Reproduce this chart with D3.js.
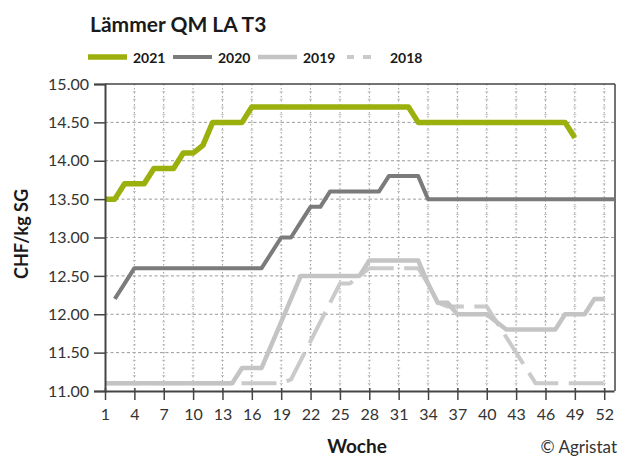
<!DOCTYPE html>
<html>
<head>
<meta charset="utf-8">
<script src="https://cdn.jsdelivr.net/npm/d3@7"></script>
<style>
  html, body { margin: 0; padding: 0; background: #fff; }
  svg { display: block; font-family: Lato, "Open Sans", sans-serif; }
</style>
</head>
<body>
<svg id="chart" width="626" height="459"></svg>
<script>
// ---- data ----
const weeks = [1,2,3,4,5,6,7,8,9,10,11,12,13,14,15,16,17,18,19,20,21,22,23,24,25,26,27,28,29,30,31,32,33,34,35,36,37,38,39,40,41,42,43,44,45,46,47,48,49,50,51,52,53];
const xTicks = [1,4,7,10,13,16,19,22,25,28,31,34,37,40,43,46,49,52];
const yTicks = [11.0,11.5,12.0,12.5,13.0,13.5,14.0,14.5,15.0];
const seriesNames = ["2021","2020","2019","2018"];

const v2021 = [13.5,13.5,13.7,13.7,13.7,13.9,13.9,13.9,14.1,14.1,14.2,14.5,14.5,14.5,14.5,14.7,14.7,14.7,14.7,14.7,14.7,14.7,14.7,14.7,14.7,14.7,14.7,14.7,14.7,14.7,14.7,14.7,14.5,14.5,14.5,14.5,14.5,14.5,14.5,14.5,14.5,14.5,14.5,14.5,14.5,14.5,14.5,14.5,14.3,null,null,null,null];
const v2020 = [null,12.2,12.4,12.6,12.6,12.6,12.6,12.6,12.6,12.6,12.6,12.6,12.6,12.6,12.6,12.6,12.6,12.8,13.0,13.0,13.2,13.4,13.4,13.6,13.6,13.6,13.6,13.6,13.6,13.8,13.8,13.8,13.8,13.5,13.5,13.5,13.5,13.5,13.5,13.5,13.5,13.5,13.5,13.5,13.5,13.5,13.5,13.5,13.5,13.5,13.5,13.5,13.5];
const v2019 = [11.1,11.1,11.1,11.1,11.1,11.1,11.1,11.1,11.1,11.1,11.1,11.1,11.1,11.1,11.3,11.3,11.3,11.6,11.9,12.2,12.5,12.5,12.5,12.5,12.5,12.5,12.5,12.7,12.7,12.7,12.7,12.7,12.7,12.4,12.15,12.15,12.0,12.0,12.0,12.0,11.9,11.8,11.8,11.8,11.8,11.8,11.8,12.0,12.0,12.0,12.2,12.2,null];
const v2018 = [11.1,11.1,11.1,11.1,11.1,11.1,11.1,11.1,11.1,11.1,11.1,11.1,11.1,11.1,11.1,11.1,11.1,11.1,11.1,11.15,11.4,11.65,11.9,12.15,12.4,12.4,12.5,12.6,12.6,12.6,12.6,12.6,12.6,12.4,12.15,12.1,12.1,12.1,12.1,12.1,11.9,11.7,11.5,11.3,11.1,11.1,11.1,11.1,11.1,11.1,11.1,11.1,null];

const colors = {"2021":"#9bb00c","2020":"#7b7b7b","2019":"#c4c4c4","2018":"#cacaca"};
const widths = {"2021":5.5,"2020":4,"2019":4.5,"2018":4};

// ---- layout ----
const svg = d3.select("#chart");
const x = d3.scaleLinear().domain([1, 53]).range([105, 614]);
const y = d3.scaleLinear().domain([11, 15]).range([391, 84]);

// grid
const grid = svg.append("g");
yTicks.filter(t => t > 11 && t < 15).forEach(t => {
  grid.append("line").attr("x1", 105).attr("x2", 615).attr("y1", y(t)).attr("y2", y(t))
    .attr("stroke", "#9a9a9a").attr("stroke-width", 1).attr("stroke-dasharray", "3,2.5");
});
const minorVals = d3.range(111, 150).map(d => d / 10);
xTicks.filter(t => t > 1).forEach(t => {
  grid.append("line").attr("x1", x(t)).attr("x2", x(t)).attr("y1", 84).attr("y2", 391)
    .attr("stroke", "#9a9a9a").attr("stroke-width", 1).attr("stroke-dasharray", "1.5,2.5");
  grid.selectAll(null).data(minorVals).enter().append("line")
    .attr("x1", x(t) - 1.5).attr("x2", x(t) + 1.5)
    .attr("y1", d => y(d)).attr("y2", d => y(d))
    .attr("stroke", "#b0b0b0").attr("stroke-width", 0.8);
});

// frame (top and right)
svg.append("line").attr("x1", 105).attr("x2", 615).attr("y1", 84).attr("y2", 84).attr("stroke", "#444").attr("stroke-width", 1.5);
svg.append("line").attr("x1", 615).attr("x2", 615).attr("y1", 84).attr("y2", 391).attr("stroke", "#444").attr("stroke-width", 1.5);

// series
const series = {"2021": v2021, "2020": v2020, "2019": v2019, "2018": v2018};
const line = d3.line().defined(d => d[1] !== null).x(d => x(d[0])).y(d => y(d[1]));
["2018","2019","2020","2021"].forEach(name => {
  const pts = weeks.map((w, i) => [w, series[name][i]]);
  svg.append("path").datum(pts).attr("d", line)
    .attr("fill", "none").attr("stroke", colors[name]).attr("stroke-width", widths[name])
    .attr("stroke-linejoin", "round").attr("stroke-linecap", "butt")
    .attr("stroke-dasharray", name === "2018" ? "35,10.5" : null);
});

// axes
const yAxis = d3.axisLeft(y).tickValues(yTicks).tickSize(11).tickPadding(5).tickFormat(d3.format(".2f"));
const gy = svg.append("g").attr("transform", "translate(105,0)").call(yAxis);
gy.select(".domain").attr("stroke", "#444").attr("stroke-width", 2);
gy.selectAll(".tick line").attr("stroke", "#444").attr("stroke-width", 1.5);
gy.selectAll(".tick text").attr("font-size", 16).attr("fill", "#333").attr("font-family", "Lato, sans-serif");

const xAxis = d3.axisBottom(x).tickValues(xTicks).tickSize(9).tickPadding(9).tickSizeOuter(0);
const gx = svg.append("g").attr("transform", "translate(0,391)").call(xAxis);
gx.select(".domain").attr("stroke", "#444").attr("stroke-width", 2);
gx.selectAll(".tick line").attr("stroke", "#444").attr("stroke-width", 1.5).attr("y1", -3);
gx.selectAll(".tick text").attr("font-size", 16).attr("fill", "#333").attr("font-family", "Lato, sans-serif");

// titles
svg.append("text").attr("x", 90).attr("y", 32).text("Lämmer QM LA T3")
  .attr("font-size", 21).attr("font-weight", "bold").attr("fill", "#1a1a1a");

svg.append("text").attr("transform", "translate(28,234) rotate(-90)").attr("text-anchor", "middle")
  .text("CHF/kg SG").attr("font-size", 18).attr("font-weight", "bold").attr("fill", "#1a1a1a");

svg.append("text").attr("x", 357).attr("y", 453).attr("text-anchor", "middle").text("Woche")
  .attr("font-size", 19).attr("font-weight", "bold").attr("fill", "#1a1a1a");
svg.append("text").attr("x", 617).attr("y", 453).attr("text-anchor", "end").text("© Agristat")
  .attr("font-size", 17).attr("fill", "#333");

// legend
const legendX = [88, 173, 258, 343];
const lg = svg.append("g");
seriesNames.forEach((name, i) => {
  const lx = legendX[i];
  if (name === "2018") {
    lg.append("line").attr("x1", lx + 4).attr("x2", lx + 11).attr("y1", 57).attr("y2", 57)
      .attr("stroke", colors[name]).attr("stroke-width", 4);
    lg.append("line").attr("x1", lx + 20).attr("x2", lx + 28).attr("y1", 57).attr("y2", 57)
      .attr("stroke", colors[name]).attr("stroke-width", 4);
    lg.append("text").attr("x", lx + 47).attr("y", 63).text(name)
      .attr("font-size", 14).attr("font-weight", "bold").attr("fill", "#1a1a1a");
  } else {
    lg.append("line").attr("x1", lx).attr("x2", lx + 39).attr("y1", 57).attr("y2", 57)
      .attr("stroke", colors[name]).attr("stroke-width", widths[name]);
    lg.append("text").attr("x", lx + 45).attr("y", 63).text(name)
      .attr("font-size", 14).attr("font-weight", "bold").attr("fill", "#1a1a1a");
  }
});
</script>
</body>
</html>
